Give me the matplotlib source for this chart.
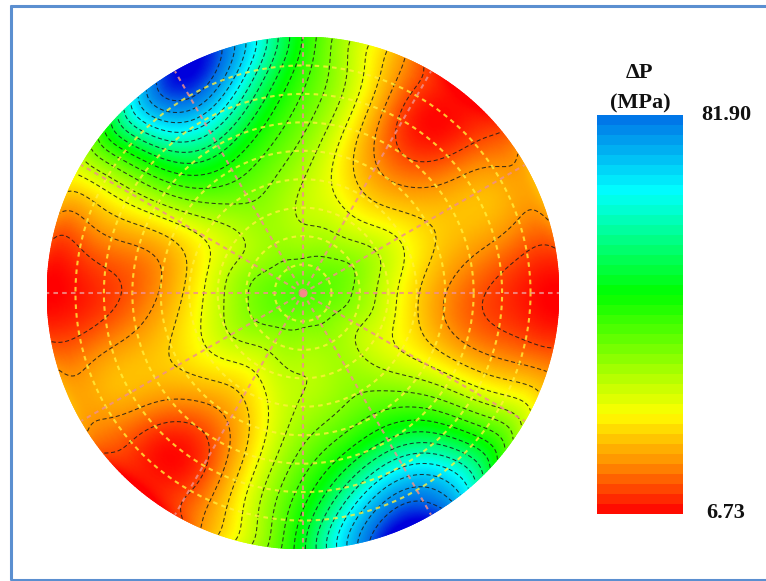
import numpy as np
import matplotlib
matplotlib.use("Agg")
import matplotlib.pyplot as plt
from matplotlib.colors import LinearSegmentedColormap, Normalize

# pressure difference (MPa), one list per radius, from 0 deg going counter clockwise every 15 deg
angles_deg = list(range(0, 360, 15))
center_value = 42
ring_1 = [38, 39.5, 39, 38, 37, 36, 35.5, 35.5, 36, 37, 37, 38.5, 39.5, 39.5, 38.5, 37.5, 37, 36, 35.5, 35.5, 36, 36.5, 36.5, 37]
ring_2 = [28.3, 30, 30.5, 29, 27.3, 29.5, 30.5, 33.5, 34.5, 31.5, 29.5, 29, 29.5, 30.5, 31, 29.3, 27.8, 31, 31.5, 33, 33.8, 31, 28.5, 28.5]
ring_3 = [19.3, 23, 24, 20.5, 20.5, 25.5, 33.5, 38.5, 41, 37.5, 27, 21, 20, 23, 24, 20.8, 20.5, 26.5, 33.5, 37, 38.5, 35, 26, 21]
ring_4 = [12, 19, 20, 13.5, 14.6, 25, 40, 47, 56, 48, 29, 17.5, 12, 19, 20, 14, 14.6, 26.5, 40.8, 49, 53, 45, 27, 16.9]
ring_5 = [8, 16, 19, 9, 11.3, 25.5, 45, 60, 78, 57, 30.5, 15.5, 8, 16, 18, 9, 10.8, 26.5, 47, 65, 73, 54, 29.5, 14.5]
ring_6 = [7, 16, 18, 8, 10, 26, 48, 74, 90, 58, 31.8, 13, 7, 15.5, 17.5, 8, 9.5, 27, 51.8, 80, 88, 54, 31.8, 13]

contour_levels = [11.74, 16.75, 21.76, 26.77, 31.78, 36.79, 41.8, 46.81, 51.82, 56.83, 61.84, 66.85, 71.86, 76.87, 81.88]
grid_rings = [1, 2, 3, 4, 5, 6, 7, 8]    # dashed circles, in ninths of the radius
grid_spokes = list(range(0, 360, 30))
vmin_label = 6.73
vmax_label = 81.90

# colour stops in MPa
color_stops = [(6.73, "#ff0000"), (16.0, "#ff8c00"), (25.5, "#ffff00"), (48.5, "#00ff00"),
               (67.5, "#00ffff"), (81.9, "#006ee6"), (88.0, "#0000dc")]
lo, hi = color_stops[0][0], color_stops[-1][0]
cmap = LinearSegmentedColormap.from_list(
    "pressure", [((v - lo) / (hi - lo), c) for v, c in color_stops], N=512)
norm = Normalize(lo, hi)

W, H = 766, 581
fig = plt.figure(figsize=(W / 100, H / 100), dpi=100)
fig.patch.set_facecolor("white")


def px_axes(left, top, right, bottom):
    return fig.add_axes([left / W, 1 - bottom / H, (right - left) / W, (bottom - top) / H])


# frame, no line on the right side
bg = fig.add_axes([0, 0, 1, 1])
bg.set_xlim(0, W)
bg.set_ylim(H, 0)
bg.axis("off")
frame_color = "#5b8fd0"
bg.plot([11, 11], [5, 580], color=frame_color, lw=2.2, solid_capstyle="butt")
bg.plot([10, W], [5.5, 5.5], color=frame_color, lw=2.2, solid_capstyle="butt")
bg.plot([10, W], [580, 580], color=frame_color, lw=2.2, solid_capstyle="butt")

# smooth the table: angular harmonics per ring, each one fitted over the radius
# higher harmonics start with a power of r so the middle stays round
table = np.array([ring_1, ring_2, ring_3, ring_4, ring_5, ring_6])
spec = np.fft.rfft(table, axis=1) / table.shape[1]
radii = np.arange(1, 7) / 6
max_harmonic = 9
r_fine = np.linspace(0, 1, 241)
th_fine = np.radians(np.linspace(0, 360, 721))
R, T = np.meshgrid(r_fine, th_fine, indexing="ij")
Z = np.zeros(R.shape)
for m in range(max_harmonic + 1):
    start = min(m, 4)
    powers = [start + j for j in range(5)]
    A = np.column_stack([radii ** p for p in powers])
    A_fine = np.column_stack([r_fine ** p for p in powers])
    if m == 0:
        # centre value is pinned
        re_c = np.linalg.lstsq(A[:, 1:], spec[:, 0].real - center_value, rcond=None)[0]
        re = center_value + A_fine[:, 1:] @ re_c
        im = np.zeros_like(r_fine)
        scale = 1
    else:
        re = A_fine @ np.linalg.lstsq(A, spec[:, m].real, rcond=None)[0]
        im = A_fine @ np.linalg.lstsq(A, spec[:, m].imag, rcond=None)[0]
        scale = 2
    Z += scale * (np.outer(re, np.cos(m * th_fine)) - np.outer(im, np.sin(m * th_fine)))
X = R * np.cos(T)
Y = R * np.sin(T)

ax = px_axes(47, 37, 559, 549)
ax.set_xlim(-1, 1)
ax.set_ylim(-1, 1)
ax.set_aspect("equal")
ax.axis("off")
ax.pcolormesh(X, Y, Z, shading="gouraud", cmap=cmap, norm=norm, rasterized=True)
ax.contour(X, Y, Z, levels=contour_levels, colors="#1a1a1a", linewidths=0.75,
           linestyles=[(0, (4, 2.5))], alpha=0.85)

circle = np.radians(np.linspace(0, 360, 361))
for k in grid_rings:
    ax.plot(k / 9 * np.cos(circle), k / 9 * np.sin(circle), color="#fff03c", lw=1.5,
            ls=(0, (2.2, 2)), alpha=0.8)
for a in grid_spokes:
    ax.plot([0, np.cos(np.radians(a))], [0, np.sin(np.radians(a))], color="#f0908a", lw=1.5,
            ls=(0, (2.2, 2)), alpha=0.85)
ax.plot([0], [0], "o", color="#f58a8a", ms=5, mew=0)

# colour bar
bar_levels = np.linspace(vmin_label, vmax_label, 41)
bar = px_axes(597, 115, 683, 514)
bar.pcolormesh([0, 1], bar_levels, ((bar_levels[:-1] + bar_levels[1:]) / 2)[:, None], cmap=cmap, norm=norm)
bar.axis("off")

serif = ["Liberation Serif", "DejaVu Serif"]
bg.text(640, 73, "ΔP", family=serif, fontsize=16, fontweight="bold", ha="center", va="center", color="#111111")
bg.text(640, 103, "(MPa)", family=serif, fontsize=16, fontweight="bold", ha="center", va="center", color="#111111")
bg.text(726, 115, "%.2f" % vmax_label, family=serif, fontsize=16, fontweight="bold", ha="center", va="center", color="#111111")
bg.text(726, 513, "%.2f" % vmin_label, family=serif, fontsize=16, fontweight="bold", ha="center", va="center", color="#111111")

fig.savefig("out.png", dpi=100)
